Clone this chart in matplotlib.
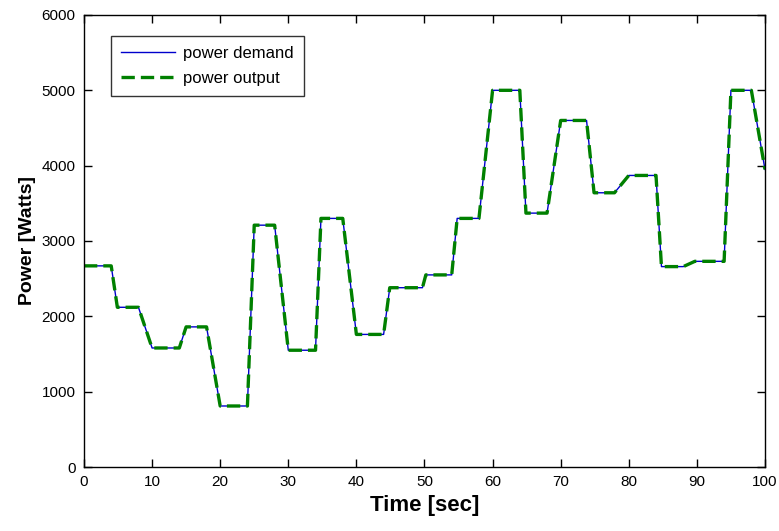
import numpy as np
import matplotlib
matplotlib.use("Agg")
import matplotlib.pyplot as plt

plt.rcParams['font.family'] = ['Liberation Sans', 'DejaVu Sans']

# breakpoints
time_s = [0, 4, 4.9, 8, 10, 14, 15, 18, 20, 24, 25, 28, 30, 34, 34.8, 38, 40,
          44, 44.9, 49.7, 50.2, 54, 54.8, 58, 60, 64, 64.9, 68, 70, 73.8, 74.9,
          77.9, 80, 84, 84.8, 88, 89.7, 94, 95, 98, 100]
power_demand = [2670, 2670, 2120, 2120, 1580, 1580, 1860, 1860, 810, 810, 3210,
                3210, 1550, 1550, 3300, 3300, 1760, 1760, 2380, 2380, 2550, 2550,
                3300, 3300, 5000, 5000, 3370, 3370, 4600, 4600, 3640, 3640, 3870,
                3870, 2660, 2660, 2730, 2730, 5000, 5000, 3950]
power_output = list(power_demand)

fig = plt.figure(figsize=(7.79, 5.31), dpi=100)
ax = fig.add_axes([0.1078, 0.1205, 0.8742, 0.8513])

ax.plot(time_s, power_demand, color=(0, 0, 0.8), lw=1.0, label="power demand")
ax.plot(time_s, power_output, color=(0, 0.5, 0), lw=2.4,
        linestyle=(0, (4, 1.8)), label="power output")

ax.set_xlim(0, 100)
ax.set_ylim(0, 6000)
ax.set_xticks(np.arange(0, 101, 10))
ax.set_yticks(np.arange(0, 6001, 1000))
ax.tick_params(direction='in', top=True, right=True, length=6, width=1,
               labelsize=11, pad=6)
for s in ax.spines.values():
    s.set_linewidth(1.0)

ax.set_xlabel("Time [sec]", fontsize=16, fontweight='bold', labelpad=4)
ax.set_ylabel("Power [Watts]", fontsize=14, fontweight='bold', labelpad=4)

leg = ax.legend(loc='upper left', bbox_to_anchor=(0.04, 0.9535), borderaxespad=0,
                fontsize=12, handlelength=3.2, handletextpad=0.5,
                labelspacing=0.6, borderpad=0.6, fancybox=False, frameon=True)
leg.get_frame().set_edgecolor('black')
leg.get_frame().set_linewidth(1.0)

fig.savefig("out.png", dpi=100)
